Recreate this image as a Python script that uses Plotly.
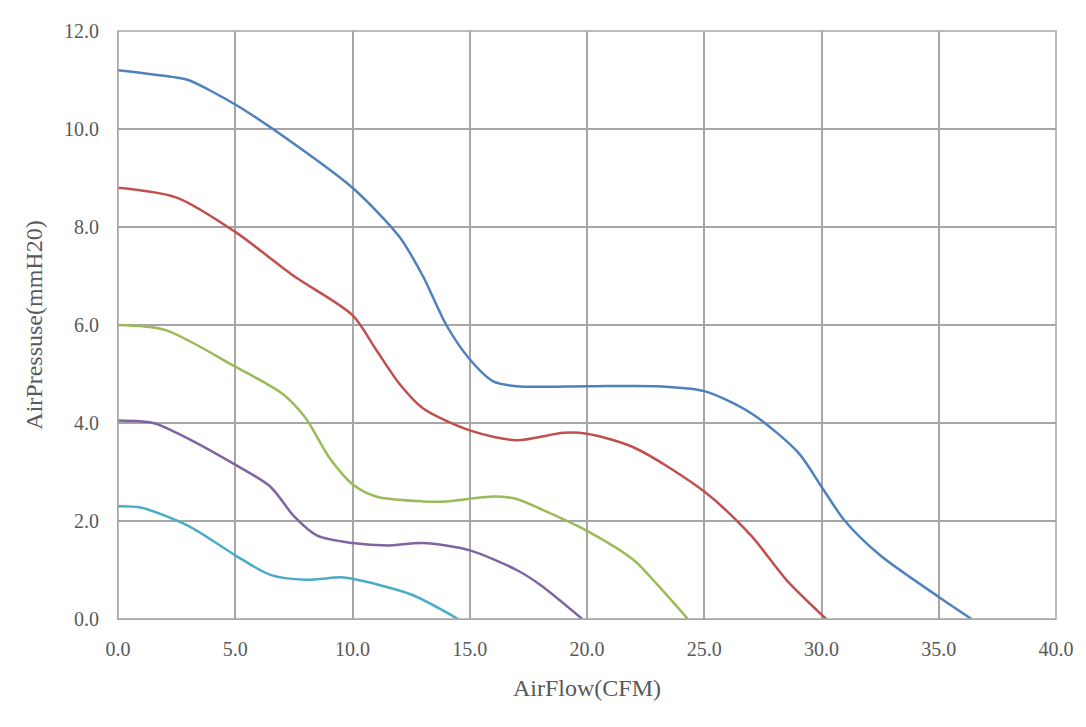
import plotly.graph_objects as go

blue_x = [0, 2.5, 3, 5, 7.5, 10, 12, 13, 14, 15, 16, 17, 20, 23, 25, 27, 29, 30, 31, 32.5, 35, 36.4]
blue_y = [11.2, 11.05, 11.0, 10.5, 9.7, 8.8, 7.8, 7.0, 6.0, 5.3, 4.85, 4.75, 4.75, 4.75, 4.65, 4.2, 3.4, 2.7, 2.0, 1.3, 0.45, 0]
red_x = [0, 2.5, 5, 7.5, 10, 11, 12, 13, 15, 17, 19, 20, 22, 25, 27, 28.5, 30.2]
red_y = [8.8, 8.6, 7.9, 7.0, 6.2, 5.5, 4.8, 4.3, 3.85, 3.65, 3.8, 3.78, 3.5, 2.6, 1.7, 0.8, 0]
green_x = [0, 2, 5, 7, 8, 9, 10, 11, 13, 14, 16, 17, 18, 20, 22, 23, 24.3]
green_y = [6.0, 5.9, 5.15, 4.6, 4.1, 3.3, 2.75, 2.5, 2.4, 2.4, 2.5, 2.45, 2.25, 1.8, 1.2, 0.7, 0]
purple_x = [0, 1.5, 2.5, 5, 6.5, 7.5, 8.5, 10, 11.5, 13, 15, 17, 18, 19.8]
purple_y = [4.05, 4.0, 3.8, 3.15, 2.7, 2.1, 1.7, 1.55, 1.5, 1.55, 1.4, 1.0, 0.7, 0]
cyan_x = [0, 1, 3, 5, 6.5, 8, 9.5, 10, 12.5, 14.5]
cyan_y = [2.3, 2.27, 1.9, 1.3, 0.9, 0.8, 0.85, 0.82, 0.5, 0]

series = [(blue_x, blue_y, "#4F81BD"), (red_x, red_y, "#C0504D"), (green_x, green_y, "#9BBB59"),
          (purple_x, purple_y, "#8064A2"), (cyan_x, cyan_y, "#4BACC6")]

fig = go.Figure()
for x, y, c in series:
    fig.add_trace(go.Scatter(x=x, y=y, mode="lines", line=dict(color=c, width=2.5, shape="spline", smoothing=0.8)))

font = dict(family="Liberation Serif, DejaVu Serif, serif", size=20, color="#595959")
tf = dict(family="Liberation Serif, DejaVu Serif, serif", size=20, color="#595959")
fig.update_layout(
    width=1086, height=727, margin=dict(l=110, r=38, t=14, b=116),
    plot_bgcolor="white", paper_bgcolor="white", showlegend=False, font=font,
    xaxis=dict(range=[0, 40], dtick=5, tickformat=".1f", tickfont=tf, ticklabelstandoff=12,
               showgrid=True, gridcolor="#a6a6a6", gridwidth=1.5,
               showline=True, linecolor="#a6a6a6", zeroline=False, ticks="", title=dict(text="AirFlow(CFM)", standoff=20)),
    yaxis=dict(range=[0, 12], dtick=2, tickformat=".1f", tickfont=tf, ticklabelstandoff=14,
               showgrid=True, gridcolor="#a6a6a6", gridwidth=1.5,
               showline=True, linecolor="#a6a6a6", zeroline=False, ticks="", title=dict(text="AirPressuse(mmH20)", standoff=14)),
)
fig.add_shape(type="rect", xref="paper", yref="paper", x0=0, y0=0, x1=1, y1=1, line=dict(color="#a6a6a6", width=1.5))
fig.write_html("out.html")
